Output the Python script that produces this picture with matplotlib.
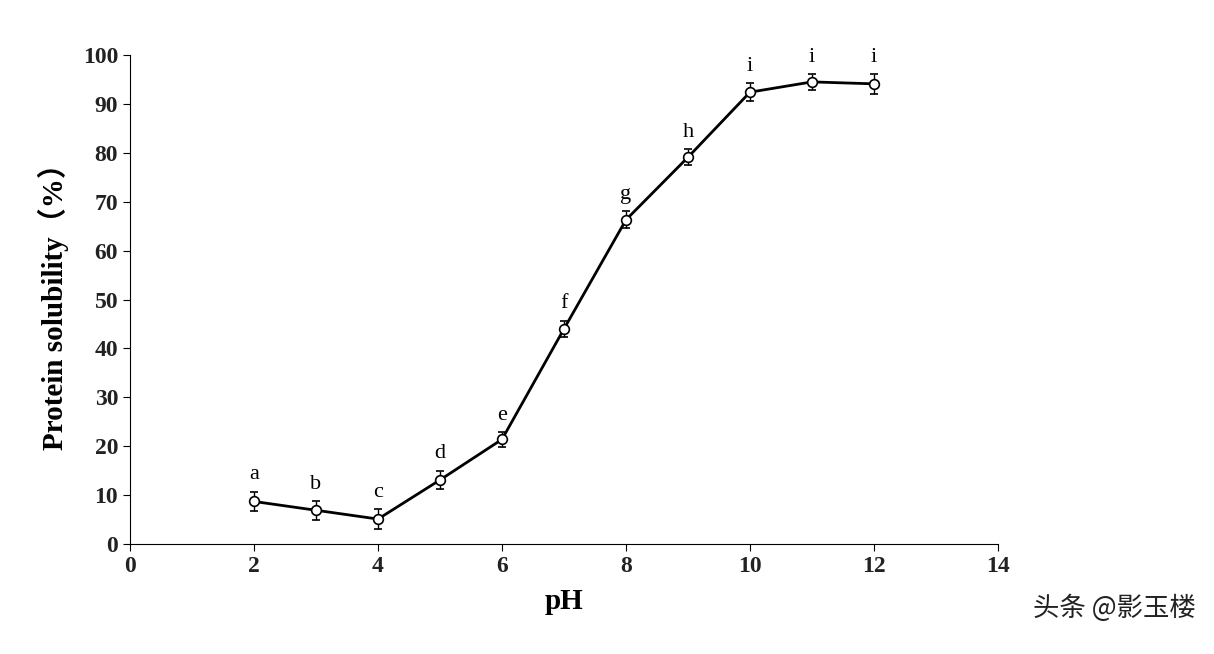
import matplotlib.pyplot as plt

ph = [2, 3, 4, 5, 6, 7, 8, 9, 10, 11, 12]
solubility = [8.7, 6.9, 5.1, 13.1, 21.4, 44.0, 66.3, 79.1, 92.4, 94.5, 94.1]
errors = [2.0, 1.9, 2.0, 1.9, 1.5, 1.7, 1.7, 1.6, 1.8, 1.6, 2.0]
letters = ['a', 'b', 'c', 'd', 'e', 'f', 'g', 'h', 'i', 'i', 'i']

serif = ['Liberation Serif', 'DejaVu Serif']

fig = plt.figure(figsize=(12.14, 6.54), dpi=100)
ax = fig.add_axes([130 / 1214, 1 - 544 / 654, 868 / 1214, 489 / 654])

ax.errorbar(ph, solubility, yerr=errors, color='black', linewidth=2,
            marker='o', markersize=7, markerfacecolor='white', markeredgecolor='black',
            markeredgewidth=1.2, ecolor='black', elinewidth=1, capsize=3)
for x, y, e, t in zip(ph, solubility, errors, letters):
    ax.text(x, y + e + 1.5, t, ha='center', va='bottom', fontsize=16, family=serif)

ax.set_xlim(0, 14)
ax.set_ylim(0, 100)
ax.set_xticks(range(0, 15, 2))
ax.set_yticks(range(0, 101, 10))
for s in ['top', 'right']:
    ax.spines[s].set_visible(False)
ax.tick_params(direction='out', length=5, labelsize=17, labelcolor='#222222')
for lab in ax.get_xticklabels() + ax.get_yticklabels():
    lab.set_family(serif)
    lab.set_fontweight('bold')
ax.set_xlabel('pH', fontsize=21, fontweight='bold', family=serif, labelpad=8)
ax.set_ylabel('Protein solubility（%）', fontsize=21, fontweight='bold',
              family=['Liberation Serif', 'Noto Sans CJK SC'], labelpad=10)

fig.text(0.985, 0.07, '头条 @影玉楼', ha='right', va='center', fontsize=19,
         color='#222222', family=['Noto Sans CJK SC', 'DejaVu Sans'])

fig.savefig('out.png', dpi=100)
